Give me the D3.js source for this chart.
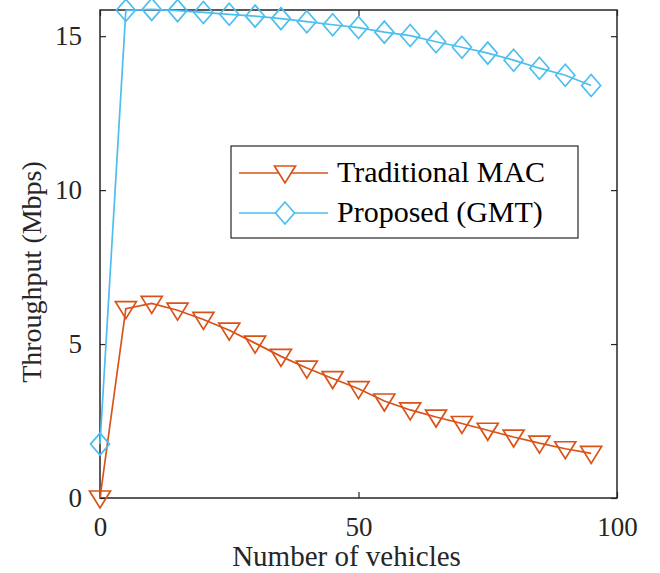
<!DOCTYPE html>
<html>
<head>
<meta charset="utf-8">
<script src="https://cdn.jsdelivr.net/npm/d3@7"></script>
<style>
  body { margin: 0; background: #fff; }
</style>
</head>
<body>
<div id="vis"></div>
<script>
// data
const vehicles = [0, 5, 10, 15, 20, 25, 30, 35, 40, 45, 50, 55, 60, 65, 70, 75, 80, 85, 90, 95];
const traditionalMac = [0, 6.15, 6.32, 6.1, 5.8, 5.45, 5.03, 4.6, 4.22, 3.88, 3.55, 3.15, 2.86, 2.63, 2.42, 2.2, 1.98, 1.78, 1.6, 1.45];
const proposedGmt = [1.75, 15.84, 15.87, 15.83, 15.77, 15.71, 15.65, 15.57, 15.47, 15.37, 15.28, 15.13, 15.02, 14.82, 14.64, 14.45, 14.22, 13.96, 13.73, 13.4];
const xTicks = [0, 50, 100];
const yTicks = [0, 5, 10, 15];
const seriesNames = ["Traditional MAC", "Proposed (GMT)"];

const width = 660, height = 573;
const margin = { top: 10, right: 43, bottom: 75, left: 100 };
const axisColor = "#262626";
const colors = ["#D95319", "#4DBEEE"];
const serif = "Liberation Serif";

const svg = d3.select("#vis").append("svg")
    .attr("width", width)
    .attr("height", height);

const x = d3.scaleLinear().domain([0, 100]).range([margin.left, width - margin.right]);
const y = d3.scaleLinear().domain([0, 15.85]).range([height - margin.bottom, margin.top]);

const series = [
    { name: seriesNames[0], values: traditionalMac, color: colors[0], marker: "tri" },
    { name: seriesNames[1], values: proposedGmt, color: colors[1], marker: "dia" }
];

// marker shapes
function markerPath(type) {
    if (type === "tri") return "M-10.5,-7L10.5,-7L0,10Z";
    return "M0,-11L9.5,0L0,11L-9.5,0Z";
}

// axes box with inward ticks
const g = svg.append("g");
g.append("g")
    .attr("transform", `translate(0,${y(0)})`)
    .call(d3.axisBottom(x).tickValues(xTicks).tickSizeInner(-6).tickSizeOuter(0).tickPadding(19))
    .call(a => a.select(".domain").remove());
g.append("g")
    .attr("transform", `translate(${x(0)},0)`)
    .call(d3.axisLeft(y).tickValues(yTicks).tickSizeInner(-6).tickSizeOuter(0).tickPadding(18))
    .call(a => a.select(".domain").remove());
g.append("g")
    .attr("transform", `translate(0,${margin.top})`)
    .call(d3.axisTop(x).tickValues(xTicks).tickSizeInner(-6).tickSizeOuter(0).tickFormat(""))
    .call(a => a.select(".domain").remove());
g.append("g")
    .attr("transform", `translate(${x(100)},0)`)
    .call(d3.axisRight(y).tickValues(yTicks).tickSizeInner(-6).tickSizeOuter(0).tickFormat(""))
    .call(a => a.select(".domain").remove());

g.selectAll(".tick line").attr("stroke", axisColor).attr("stroke-width", 1.2);
g.selectAll(".tick text")
    .attr("fill", axisColor)
    .style("font-family", serif)
    .style("font-size", "27px");

g.append("rect")
    .attr("x", x(0))
    .attr("y", y(15.85))
    .attr("width", x(100) - x(0))
    .attr("height", y(0) - y(15.85))
    .attr("fill", "none")
    .attr("stroke", axisColor)
    .attr("stroke-width", 1.5);

// lines + markers
const line = d3.line()
    .x((d, i) => x(vehicles[i]))
    .y(d => y(d));

series.forEach(s => {
    svg.append("path")
        .datum(s.values)
        .attr("d", line)
        .attr("fill", "none")
        .attr("stroke", s.color)
        .attr("stroke-width", 1.7);

    svg.selectAll(null)
        .data(s.values)
        .enter().append("path")
        .attr("d", markerPath(s.marker))
        .attr("transform", (d, i) => `translate(${x(vehicles[i])},${y(d)})`)
        .attr("fill", "none")
        .attr("stroke", s.color)
        .attr("stroke-width", 1.7);
});

// axis titles
svg.append("text")
    .attr("x", x(50) - 12)
    .attr("y", 566)
    .attr("text-anchor", "middle")
    .attr("fill", axisColor)
    .style("font-family", serif)
    .style("font-size", "29px")
    .text("Number of vehicles");

svg.append("text")
    .attr("transform", "translate(41,272) rotate(-90)")
    .attr("text-anchor", "middle")
    .attr("fill", axisColor)
    .style("font-family", serif)
    .style("font-size", "28px")
    .text("Throughput (Mbps)");

// legend
const legend = svg.append("g");
legend.append("rect")
    .attr("x", 231).attr("y", 146)
    .attr("width", 347).attr("height", 92)
    .attr("fill", "#fff")
    .attr("stroke", axisColor)
    .attr("stroke-width", 1.2);

series.forEach((s, i) => {
    const ly = 173 + i * 40;
    legend.append("line")
        .attr("x1", 239).attr("x2", 328)
        .attr("y1", ly).attr("y2", ly)
        .attr("stroke", s.color)
        .attr("stroke-width", 1.7);
    legend.append("path")
        .attr("d", markerPath(s.marker))
        .attr("transform", `translate(285,${ly})`)
        .attr("fill", "#fff")
        .attr("stroke", s.color)
        .attr("stroke-width", 1.7);
    legend.append("text")
        .attr("x", 337)
        .attr("y", ly + 9)
        .attr("fill", "#000")
        .style("font-family", serif)
        .style("font-size", "30px")
        .text(s.name);
});
</script>
</body>
</html>
